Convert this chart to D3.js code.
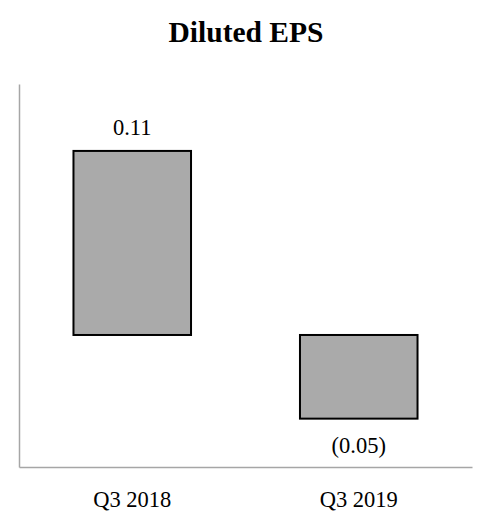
<!DOCTYPE html>
<html>
<head>
<meta charset="utf-8">
<script src="https://cdn.jsdelivr.net/npm/d3@7"></script>
<style>
  html, body { margin: 0; padding: 0; background: #fff; }
  svg { display: block; }
  text { font-family: "Liberation Serif", "Times New Roman", serif; fill: #000; }
</style>
</head>
<body>
<svg id="chart" width="492" height="532"></svg>
<script>
const title = "Diluted EPS";
const categories = ["Q3 2018", "Q3 2019"];
const values = [0.11, -0.05];
const valueLabels = ["0.11", "(0.05)"];

const W = 492, H = 532;
const svg = d3.select("#chart");

const x = d3.scaleBand()
  .domain(categories)
  .range([19, 472])
  .paddingInner(0.481)
  .paddingOuter(0.2405);

const y = d3.scaleLinear()
  .domain([-0.0789, 0.15])
  .range([467, 84]);

// title
svg.append("text")
  .attr("x", 246)
  .attr("y", 42)
  .attr("text-anchor", "middle")
  .style("font-size", "29.5px")
  .style("font-weight", "bold")
  .text(title);

// bars
svg.selectAll("rect.bar")
  .data(values)
  .enter().append("rect")
  .attr("class", "bar")
  .attr("x", (d, i) => x(categories[i]))
  .attr("width", x.bandwidth())
  .attr("y", d => y(Math.max(0, d)))
  .attr("height", d => Math.abs(y(d) - y(0)))
  .attr("fill", "#aaaaaa")
  .attr("stroke", "#000")
  .attr("stroke-width", 2);

// value labels
svg.selectAll("text.val")
  .data(values)
  .enter().append("text")
  .attr("class", "val")
  .attr("x", (d, i) => x(categories[i]) + x.bandwidth() / 2)
  .attr("y", d => d >= 0 ? y(d) - 16 : y(d) + 34)
  .attr("text-anchor", "middle")
  .style("font-size", "22.5px")
  .text((d, i) => valueLabels[i]);

// axes lines
const yAxis = d3.axisLeft(y).tickValues([]).tickSizeOuter(0);
svg.append("g")
  .attr("transform", "translate(19,0)")
  .call(yAxis)
  .call(g => g.select(".domain").attr("stroke", "#a6a6a6").attr("stroke-width", 1.5));

const xAxis = d3.axisBottom(x).tickSize(0).tickSizeOuter(0).tickPadding(0);
const gx = svg.append("g")
  .attr("transform", "translate(0,467)")
  .call(xAxis);
gx.select(".domain").attr("stroke", "#a6a6a6").attr("stroke-width", 1.5);
gx.selectAll(".tick text")
  .attr("y", 40)
  .attr("dy", 0)
  .style("font-family", "'Liberation Serif', 'Times New Roman', serif")
  .style("font-size", "22.5px")
  .attr("fill", "#000");
</script>
</body>
</html>
